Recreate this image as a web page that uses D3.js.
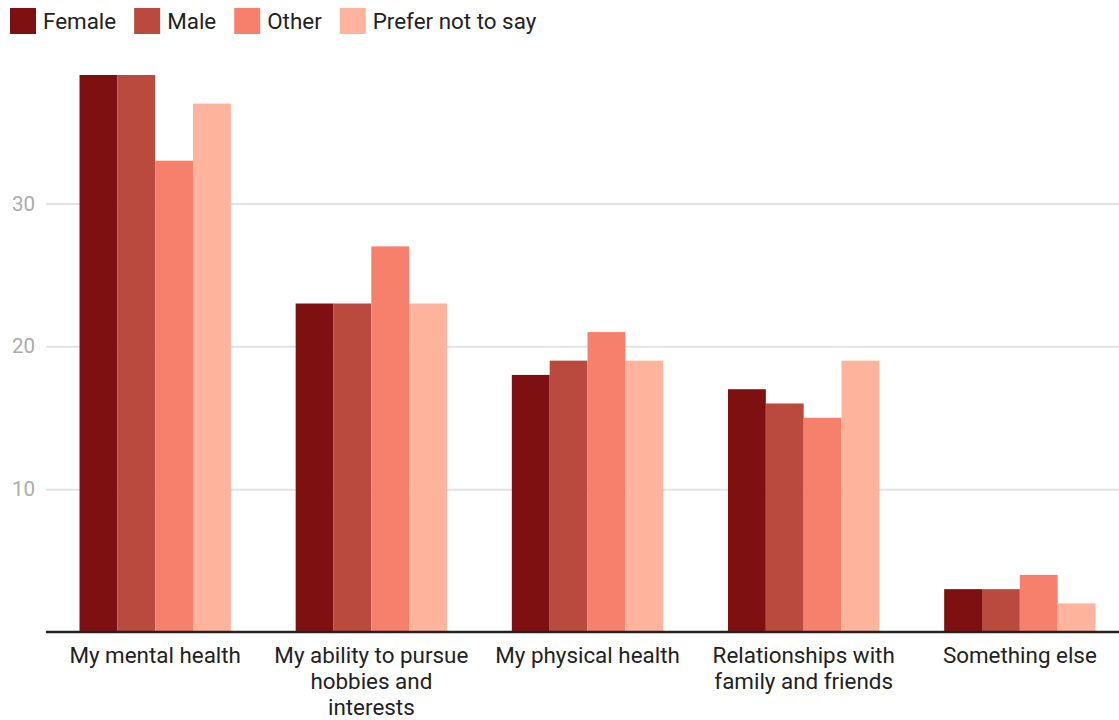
<!DOCTYPE html>
<html>
<head>
<meta charset="utf-8">
<script src="https://cdn.jsdelivr.net/npm/d3@7"></script>
<style>
  body { margin: 0; background: #fff; }
  svg text { font-family: Roboto, "Noto Sans", sans-serif; }
</style>
</head>
<body>
<div id="chart"></div>
<script>
// data
var categories = ["My mental health", "My ability to pursue hobbies and interests", "My physical health",
  "Relationships with family and friends", "Something else"];
var seriesNames = ["Female", "Male", "Other", "Prefer not to say"];
var female = [39, 23, 18, 17, 3];
var male = [39, 23, 19, 16, 3];
var other = [33, 27, 21, 15, 4];
var preferNot = [37, 23, 19, 19, 2];
var yTicks = [10, 20, 30];

var seriesValues = [female, male, other, preferNot];
var colors = ["#7e1012", "#b94a3d", "#f7806c", "#feb39c"];

var width = 1119, height = 720;
var margin = { left: 46, bottom: 632, top: 75 };

var svg = d3.select("#chart").append("svg")
  .attr("width", width)
  .attr("height", height);

var data = categories.map(function (c, i) {
  return { cat: c, vals: seriesNames.map(function (s, j) { return { key: s, value: seriesValues[j][i] }; }) };
});

var x0 = d3.scaleBand()
  .domain(categories)
  .range([margin.left, 1129])
  .paddingInner(0.3)
  .paddingOuter(0.155);

var x1 = d3.scaleBand()
  .domain(seriesNames)
  .range([0, x0.bandwidth()]);

var y = d3.scaleLinear()
  .domain([0, d3.max(seriesValues, function (a) { return d3.max(a); })])
  .range([margin.bottom, margin.top]);

var color = d3.scaleOrdinal().domain(seriesNames).range(colors);

// gridlines + tick labels
var yAxis = svg.append("g")
  .attr("transform", "translate(" + margin.left + ",0)")
  .call(d3.axisLeft(y).tickValues(yTicks).tickSize(-(width - margin.left)).tickPadding(11));
yAxis.select(".domain").remove();
yAxis.selectAll("line").attr("stroke", "#e3e3e3").attr("stroke-width", 2);
yAxis.selectAll("text").attr("fill", "#ababab").style("font-size", "20.5px");

// bars
var groups = svg.append("g").selectAll("g")
  .data(data)
  .enter()
  .append("g")
  .attr("transform", function (d) { return "translate(" + x0(d.cat) + ",0)"; });

groups.selectAll("rect")
  .data(function (d) { return d.vals; })
  .enter()
  .append("rect")
  .attr("x", function (d) { return x1(d.key); })
  .attr("y", function (d) { return y(d.value); })
  .attr("width", x1.bandwidth())
  .attr("height", function (d) { return margin.bottom - y(d.value); })
  .attr("fill", function (d) { return color(d.key); });

// x axis
var xAxis = svg.append("g")
  .attr("transform", "translate(0," + margin.bottom + ")")
  .call(d3.axisBottom(x0).tickSize(0).tickPadding(0));
xAxis.select(".domain").remove();
xAxis.append("line")
  .attr("x1", margin.left).attr("x2", width)
  .attr("stroke", "#222").attr("stroke-width", 2.5);
xAxis.selectAll(".tick text").remove();

// wrapped category labels
xAxis.selectAll(".tick").each(function (d) {
  var words = d.split(" ");
  var lines = [];
  var t = d3.select(this).append("text")
    .attr("fill", "#222")
    .attr("text-anchor", "middle")
    .style("font-size", "22.4px");
  var maxW = 200;
  var line = [];
  var probe = t.append("tspan");
  words.forEach(function (w) {
    line.push(w);
    probe.text(line.join(" "));
    if (probe.node().getComputedTextLength() > maxW && line.length > 1) {
      line.pop();
      lines.push(line.join(" "));
      line = [w];
    }
  });
  lines.push(line.join(" "));
  probe.remove();
  lines.forEach(function (l, i) {
    t.append("tspan").attr("x", 0).attr("y", 31 + i * 26).text(l);
  });
});

// legend
var legend = svg.append("g").attr("transform", "translate(10,8)");
var lx = 0;
seriesNames.forEach(function (s) {
  var g = legend.append("g").attr("transform", "translate(" + lx + ",0)");
  g.append("rect").attr("width", 26).attr("height", 26).attr("fill", color(s));
  var txt = g.append("text")
    .attr("x", 33).attr("y", 20.5)
    .attr("fill", "#222")
    .style("font-size", "22.4px")
    .text(s);
  lx += 33 + txt.node().getComputedTextLength() + 18;
});
</script>
</body>
</html>
